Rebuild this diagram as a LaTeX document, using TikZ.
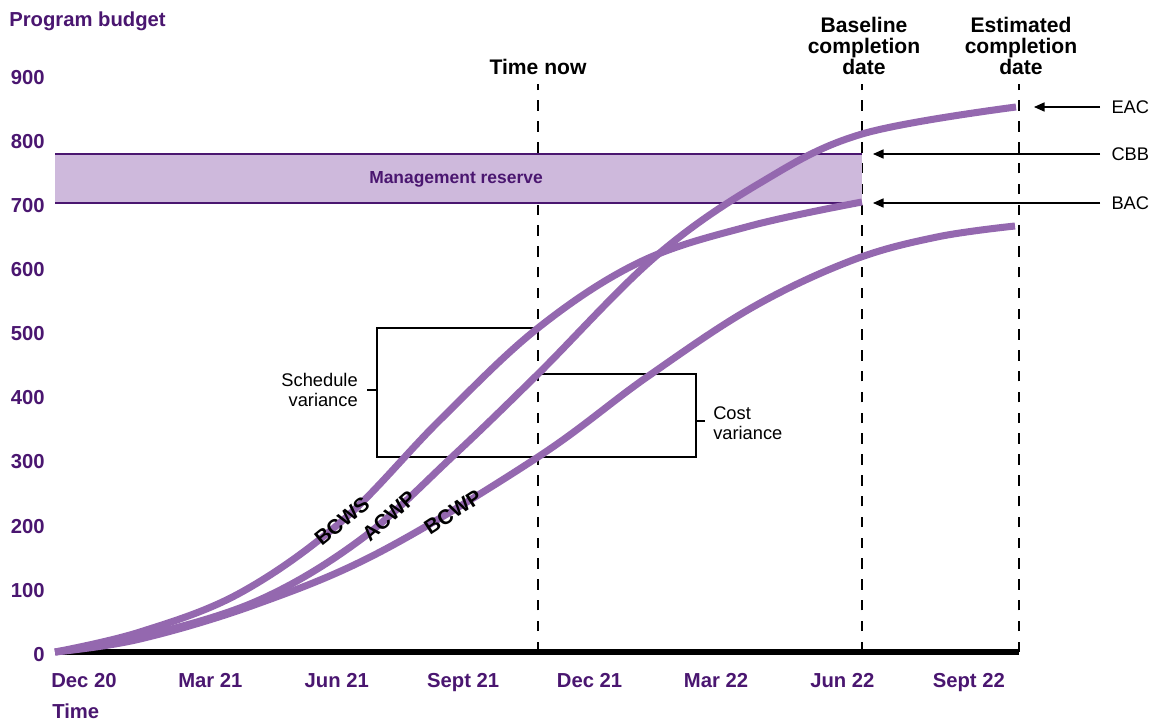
\documentclass[tikz,border=0pt]{standalone}
\usepackage{fontspec}
\setmainfont{Liberation Sans}
\usetikzlibrary{arrows.meta}
\definecolor{evmcurve}{RGB}{148,104,175}
\definecolor{evmdark}{RGB}{74,22,112}
\definecolor{evmband}{RGB}{206,185,220}
\tikzset{
  axislbl/.style={text=evmdark, font=\fontsize{14.4}{16}\selectfont\bfseries, inner sep=0pt},
  milelbl/.style={font=\fontsize{15}{15}\selectfont\bfseries, align=center, inner sep=0pt},
  milestone/.style={line width=1.9pt, dash pattern=on 7.4pt off 7.4pt},
  evcurve/.style={evmcurve, line width=5pt},
  curvelbl/.style={font=\fontsize{14.8}{15}\selectfont\bfseries, inner sep=0pt},
  notelbl/.style={font=\fontsize{13}{14}\selectfont, inner sep=0pt},
  varbox/.style={line width=1.4pt},
  pointer/.style={line width=0.9pt, -{Triangle[length=7.5pt,width=6.5pt]}},
}
\newcommand\reservefont{\fontsize{12.4}{14}\selectfont\bfseries}

\begin{document}
\begin{tikzpicture}[x=0.025cm, y=-0.025cm]
  \useasboundingbox (0,0) rectangle (1151,721);

  % axis labels
  \node[axislbl, anchor=base west] (ylbl) at (9,27) {Program budget};
  \node[axislbl, anchor=base west] (xlbl) at (52,718) {Time};
  \foreach \v in {0,100,...,900}
    \node[axislbl, anchor=base east] (v\v) at (45,{661.2-0.641*\v}) {\v};
  \foreach \d [count=\i from 0] in {Dec 20,Mar 21,Jun 21,Sept 21,Dec 21,Mar 22,Jun 22,Sept 22}
    \node[axislbl, anchor=base] (d\i) at ({84+126.4*\i},687) {\d};

  % milestones
  \coordinate (now) at (538,652);
  \coordinate (nowtop) at (538,84);
  \coordinate (base) at (862,652);
  \coordinate (basetop) at (862,84);
  \coordinate (est) at (1019,652);
  \coordinate (esttop) at (1019,84);
  \draw[milestone] (now) -- (nowtop);
  \draw[milestone] (base) -- (basetop);
  \draw[milestone] (est) -- (esttop);
  \node[milelbl] (nowlbl) at (538,67) {Time now};
  \node[milelbl] (baselbl) at (864,46) {Baseline\\completion\\date};
  \node[milelbl] (estlbl) at (1021,46) {Estimated\\completion\\date};

  % management reserve
  \fill[evmband] (55,154) rectangle (862,203);
  \draw[evmdark, line width=1.9pt] (55,154) -- (862,154) (55,203) -- (862,203);
  \node[text=evmdark, font=\reservefont] (mrlbl) at (456,179) {Management reserve};

  % variances
  \draw[varbox] (538,328) -- (377,328) -- (377,457) -- (696,457) -- (696,374) -- (538,374);
  \draw[varbox] (367,390) -- (377,390);
  \draw[varbox] (696,421) -- (705,421);
  \node[notelbl, anchor=east, align=right] (svlbl) at (358,390) {Schedule\\variance};
  \node[notelbl, anchor=west, align=left] (cvlbl) at (713,423) {Cost\\variance};

  % axis
  \coordinate (origin) at (55,652);
  \draw[line width=3.6pt] (origin) -- (est);

  % curves
  \draw[evcurve] plot[smooth, tension=0.6] coordinates {(55,652) (140,632) (240,593) (342,521)
    (440,420) (538,328) (640,262) (750,226) (862,202)};
  \draw[evcurve] plot[smooth, tension=0.6] coordinates {(55,652) (140,637) (257,601) (360,540)
    (452,457) (538,374) (655,257) (760,183) (862,134) (1016,107)};
  \draw[evcurve] plot[smooth, tension=0.6] coordinates {(55,652) (140,639) (257,604) (380,552)
    (538,457) (647,377) (753,307) (853,260) (937,237) (1015,226)};
  \node[curvelbl, rotate=39] (bcws) at (342,521) {BCWS};
  \node[curvelbl, rotate=42] (acwp) at (389,516) {ACWP};
  \node[curvelbl, rotate=33] (bcwp) at (453,512) {BCWP};

  % budget markers
  \coordinate (eacpt) at (1034,107);
  \coordinate (cbbpt) at (873,154);
  \coordinate (bacpt) at (873,203);
  \node[notelbl, anchor=west, inner xsep=8pt] (eac) at (1100,107) {EAC};
  \node[notelbl, anchor=west, inner xsep=8pt] (cbb) at (1100,154) {CBB};
  \node[notelbl, anchor=west, inner xsep=8pt] (bac) at (1100,203) {BAC};
  \draw[pointer] (eac) -- (eacpt);
  \draw[pointer] (cbb) -- (cbbpt);
  \draw[pointer] (bac) -- (bacpt);
\end{tikzpicture}
\end{document}
